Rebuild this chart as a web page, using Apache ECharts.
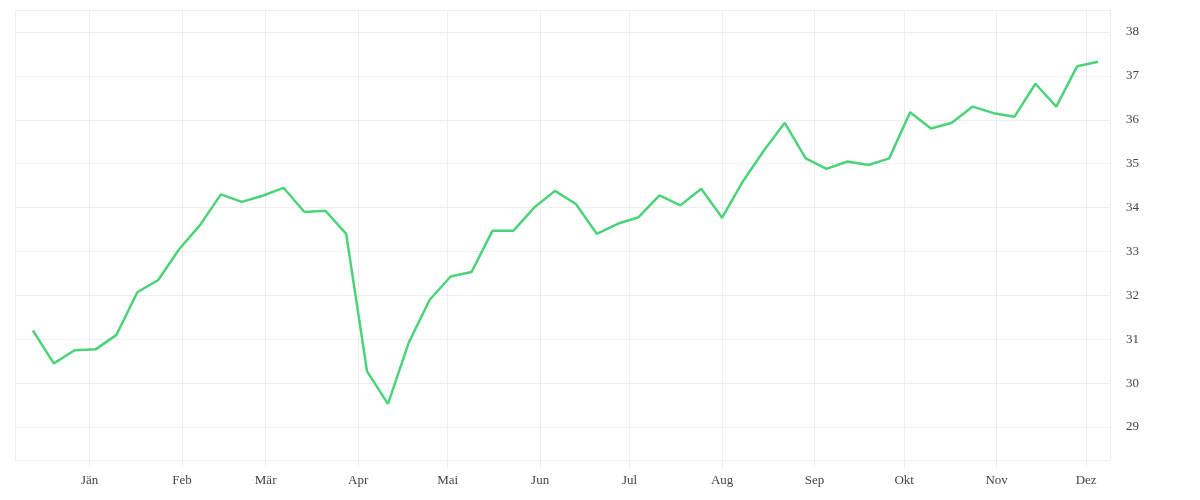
<!DOCTYPE html>
<html><head><meta charset="utf-8">
<script src="https://cdn.jsdelivr.net/npm/echarts@6/dist/echarts.min.js"></script>
<style>html,body{margin:0;background:#fff}#c{width:1200px;height:500px}</style>
</head><body><div id="c"></div>
<script>
const startDate = '2018-12-13';
const monthNames = ['Jän','Feb','Mär','Apr','Mai','Jun','Jul','Aug','Sep','Okt','Nov','Dez'];
const values = [31.2,30.45,30.75,30.77,31.1,32.07,32.35,33.05,33.6,34.3,34.13,34.27,34.45,33.9,33.93,33.4,30.27,29.53,30.93,31.9,32.43,32.53,33.47,33.47,34.0,34.38,34.08,33.4,33.63,33.78,34.28,34.05,34.43,33.77,34.6,35.3,35.93,35.12,34.88,35.05,34.97,35.12,36.17,35.8,35.93,36.3,36.15,36.07,36.82,36.3,37.22,37.32];
const data = values.map((v,i)=>{const d=new Date(startDate+'T00:00:00');d.setDate(d.getDate()+7*i);return [d.getTime(),v];});
const chart = echarts.init(document.getElementById('c'));
const font = '"Liberation Serif", serif';
chart.setOption({
  animation:false,
  grid:{left:15,right:90,top:10,bottom:40},
  xAxis:{type:'time',min:new Date('2018-12-07T00:00:00').getTime(),max:new Date('2019-12-09T00:00:00').getTime(),
    minInterval:28*86400000,maxInterval:31*86400000,
    axisLine:{show:true,lineStyle:{color:'#eee'}},axisTick:{show:true,length:8,lineStyle:{color:'#eee'}},
    splitLine:{show:true,lineStyle:{color:'#eee'}},
    axisLabel:{color:'#444',fontFamily:font,fontSize:13,margin:14,formatter:v=>monthNames[new Date(v).getMonth()],hideOverlap:false}},
  yAxis:{type:'value',position:'right',min:28.25,max:38.5,splitNumber:10,
    axisLine:{show:true,lineStyle:{color:'#eee'}},axisTick:{show:false},
    splitLine:{lineStyle:{color:'#eee'}},
    axisLabel:{color:'#444',fontFamily:font,fontSize:13,margin:16,showMinLabel:false,showMaxLabel:false,formatter:v=>Number.isInteger(v)?String(v):''}},
  series:[{type:'line',data:data,showSymbol:false,lineStyle:{color:'#4cd37a',width:2.5},itemStyle:{color:'#4cd37a'}}]
});
</script></body></html>
